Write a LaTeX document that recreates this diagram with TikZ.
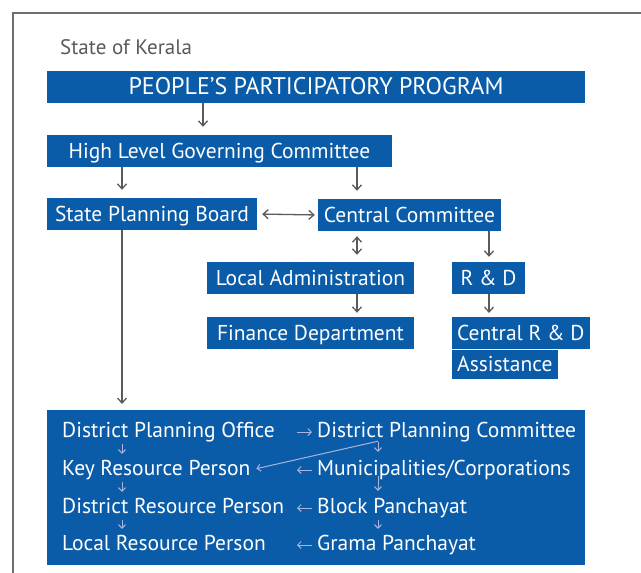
\documentclass[tikz,border=0pt]{standalone}
\usepackage{fontspec}
\setmainfont{PT Sans}
\usetikzlibrary{arrows.meta,positioning}
\definecolor{boxblue}{RGB}{10,92,168}
\definecolor{linegray}{RGB}{90,90,90}
\definecolor{framegray}{RGB}{110,110,110}
\definecolor{paleline}{RGB}{172,180,222}
\tikzset{>={Straight Barb[length=5pt,width=9pt]}}
\tikzset{
  orgbox/.style={fill=boxblue, text=white, inner sep=0pt, minimum height=32pt,
    text height=16pt, text depth=2pt, font=\fontsize{21.5}{24}\selectfont},
  lowbox/.style={fill=boxblue, text=white, inner xsep=5pt, inner ysep=0pt,
    text height=16pt, text depth=2pt, anchor=north west, font=\fontsize{21.5}{24}\selectfont},
  item/.style={text=white, inner sep=0pt, anchor=base west, text height=14pt,
    text depth=4pt, font=\fontsize{21.5}{24}\selectfont},
  flow/.style={->, linegray, line width=1.3pt},
  paleflow/.style={->, paleline, line width=1pt, >={Straight Barb[length=3.5pt,width=7pt]}}
}
\begin{document}
\begin{tikzpicture}[x=1pt,y=-1pt]
\useasboundingbox (0,0) rectangle (641,573);
% frame
\draw[framegray, line width=1.4pt] (13,573) -- (13,13) -- (641,13);
\node[text=linegray, anchor=base west, inner sep=0pt, font=\fontsize{21}{24}\selectfont] (state) at (60,54) {State of Kerala};
% columns for connectors
\coordinate (c1) at (122,0);
\coordinate (c2) at (203,0);
\coordinate (c3) at (357,0);
\coordinate (c4) at (489,0);
\coordinate (c5) at (378,0);
\coordinate (c6) at (297,0);
% upper boxes
\node[orgbox, minimum width=538pt, text height=17pt, font=\fontsize{24}{28}\selectfont] (ppp) at (316,87) {PEOPLE’S PARTICIPATORY PROGRAM};
\node[orgbox, minimum width=345pt] (hlgc) at (219.5,151) {High Level Governing Committee};
\node[orgbox, minimum width=210pt] (spb) at (152,214) {State Planning Board};
\node[orgbox, minimum width=183pt] (cc) at (409.5,215) {Central Committee};
\node[orgbox, minimum width=207pt] (la) at (310.5,278) {Local Administration};
\node[orgbox, minimum width=73pt] (rd) at (488.5,278) {R \& D};
\node[orgbox, minimum width=207pt] (fd) at (310.5,333) {Finance Department};
\node[lowbox, minimum height=32pt] (crd) at (452,317) {Central R \& D};
\node[lowbox, minimum height=29pt] (asst) at (crd.south west) {Assistance};
% district box
\node[fill=boxblue, inner sep=0pt, anchor=north west, minimum width=538pt, minimum height=155pt] (dist) at (47,410) {};
\node[item] (dpo) at (62,437) {District Planning Office};
\node[item] (dpc) at (317,437) {District Planning Committee};
\node[item] (krp) at (62,475) {Key Resource Person};
\node[item] (muni) at (317,475) {Municipalities/Corporations};
\node[item] (drp) at (62,513) {District Resource Person};
\node[item] (bp) at (317,513) {Block Panchayat};
\node[item] (lrp) at (62,550) {Local Resource Person};
\node[item] (gp) at (317,550) {Grama Panchayat};
% connectors
\draw[flow, shorten >=8pt] (ppp.south -| c2) -- (hlgc.north -| c2);
\draw[flow, shorten >=8pt] (hlgc.south -| c1) -- (spb.north -| c1);
\draw[flow, shorten >=8pt] (hlgc.south -| c3) -- (cc.north -| c3);
\draw[flow, <->, shorten <=5pt, shorten >=3pt] (spb.east) -- (cc.west);
\draw[flow, <->, shorten <=5pt, shorten >=7pt] (cc.south -| c3) -- (la.north -| c3);
\draw[flow, shorten >=5pt] (cc.south -| c4) -- (rd.north -| c4);
\draw[flow, shorten >=4pt] (la.south -| c3) -- (fd.north -| c3);
\draw[flow, shorten >=4pt] (rd.south -| c4) -- (crd.north -| c4);
\draw[flow, shorten >=6pt] (spb.south -| c1) -- (dist.north -| c1);
% inside the district box
\draw[paleflow, shorten >=5pt] (dpc.west -| c6) -- (dpc.west);
\draw[paleflow, shorten <=5pt] (muni.west) -- (muni.west -| c6);
\draw[paleflow, shorten <=5pt] (bp.west) -- (bp.west -| c6);
\draw[paleflow, shorten <=5pt] (gp.west) -- (gp.west -| c6);
\draw[paleflow, shorten <=3pt, shorten >=7pt] (dpo.south -| c1) -- (krp.north -| c1);
\draw[paleflow, shorten <=3pt, shorten >=7pt] (krp.south -| c1) -- (drp.north -| c1);
\draw[paleflow, shorten <=3pt, shorten >=7pt] (drp.south -| c1) -- (lrp.north -| c1);
\draw[paleflow, shorten <=1pt, shorten >=9pt] (dpc.south -| c5) -- (muni.north -| c5);
\draw[paleflow, shorten <=-3pt, shorten >=8pt] (muni.south -| c5) -- (bp.north -| c5);
\draw[paleflow, shorten <=3pt, shorten >=7pt] (bp.south -| c5) -- (gp.north -| c5);
\draw[paleflow, shorten >=6pt] (dpc.south -| c5) -- (krp.east);
\end{tikzpicture}
\end{document}
